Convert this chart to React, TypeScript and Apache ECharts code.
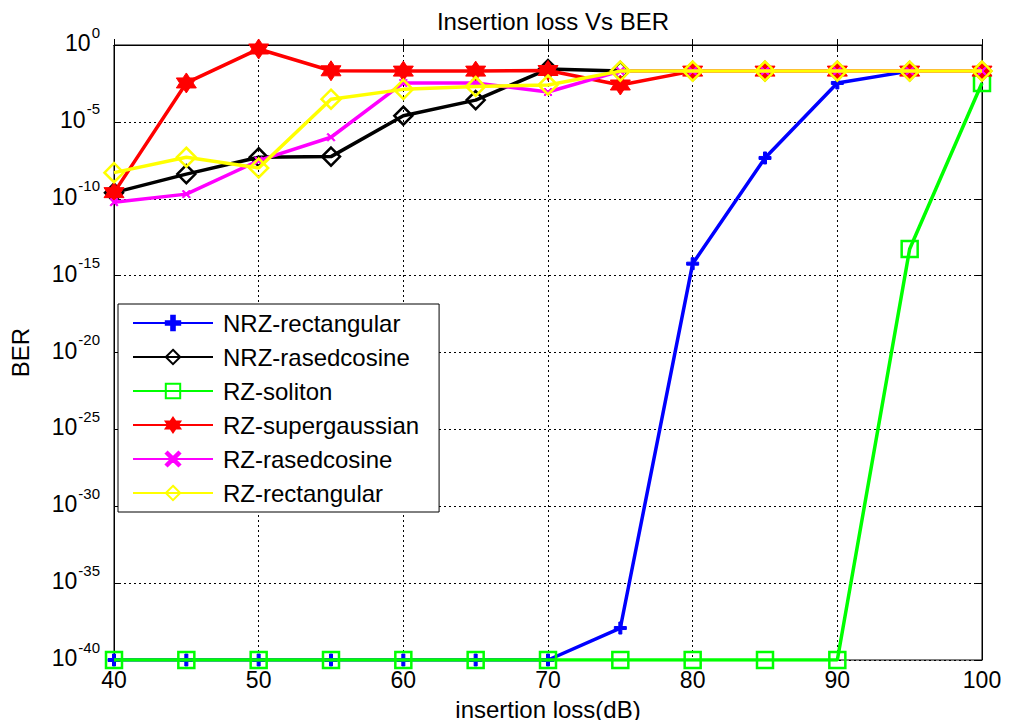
import React, { useEffect, useRef } from "react";
import * as echarts from "echarts";

const xValues = [40, 45, 50, 55, 60, 65, 70, 75, 80, 85, 90, 95, 100];
const seriesNames = [
  "NRZ-rectangular",
  "NRZ-rasedcosine",
  "RZ-soliton",
  "RZ-supergaussian",
  "RZ-rasedcosine",
  "RZ-rectangular",
];
// BER values
const nrzRectangular = [1e-40, 1e-40, 1e-40, 1e-40, 1e-40, 1e-40, 1e-40, 1.2e-38, 6e-15, 4.5e-8, 3.4e-3, 2e-2, 2e-2];
const nrzRasedcosine = [2.5e-10, 4e-9, 5e-8, 5.5e-8, 2.5e-5, 2.6e-4, 2.7e-2, 2e-2, 2e-2, 2e-2, 2e-2, 2e-2, 2e-2];
const rzSoliton = [1e-40, 1e-40, 1e-40, 1e-40, 1e-40, 1e-40, 1e-40, 1e-40, 1e-40, 1e-40, 1e-40, 5.4e-14, 3.4e-3];
const rzSupergaussian = [2.5e-10, 3.4e-3, 5.5e-1, 2.1e-2, 2e-2, 2e-2, 2.2e-2, 2.5e-3, 2e-2, 2e-2, 2e-2, 2e-2, 2e-2];
const rzRasedcosine = [6e-11, 2e-10, 3e-8, 1e-6, 3.4e-3, 3.4e-3, 8.7e-4, 2e-2, 2e-2, 2e-2, 2e-2, 2e-2, 2e-2];
const rzRectangular = [5e-9, 5e-8, 1e-8, 3e-4, 1.3e-3, 2e-3, 2.5e-3, 2e-2, 2e-2, 2e-2, 2e-2, 2e-2, 2e-2];

const colors = ["#0000ff", "#000000", "#00ff00", "#ff0000", "#ff00ff", "#ffff00"];
const allData = [nrzRectangular, nrzRasedcosine, rzSoliton, rzSupergaussian, rzRasedcosine, rzRectangular];

const FONT = "Arial, 'Liberation Sans', sans-serif";

const plusPath =
  "path://M-2,-8 L2,-8 L2,-2 L8,-2 L8,2 L2,2 L2,8 L-2,8 L-2,2 L-8,2 L-8,-2 L-2,-2 Z";
const hexPath =
  "path://M0,-10 L2.9,-5 L8.66,-5 L5.8,0 L8.66,5 L2.9,5 L0,10 L-2.9,5 L-8.66,5 L-5.8,0 L-8.66,-5 L-2.9,-5 Z";
const xPath = "path://M-6,-4.5 L-4.5,-6 L0,-1.5 L4.5,-6 L6,-4.5 L1.5,0 L6,4.5 L4.5,6 L0,1.5 L-4.5,6 L-6,4.5 L-1.5,0 Z";

const symbols = [plusPath, "diamond", "rect", hexPath, xPath, "diamond"];
const symbolSizes = [12, 18, 16, 20, 8, 19];
const filled = [true, false, false, true, true, false];

export default function App() {
  const ref = useRef<HTMLDivElement>(null);
  useEffect(() => {
    if (!ref.current) return;
    const chart = echarts.init(ref.current, undefined, { renderer: "svg" });
    const series = seriesNames.map((name, i) => ({
      name,
      type: "line",
      data: xValues.map((x, j) => [x, Math.log10(allData[i][j])]),
      symbol: symbols[i],
      symbolSize: symbolSizes[i],
      showSymbol: true,
      lineStyle: { color: colors[i], width: 3.5 },
      itemStyle: filled[i]
        ? { color: colors[i], borderColor: colors[i], borderWidth: 1 }
        : { color: "none", borderColor: colors[i], borderWidth: 2.5 },
      z: 2 + i,
    }));
    const superLabel = (v: number) => {
      const e = Math.round(v);
      return "{b|10}{s|" + e + "}";
    };
    chart.setOption({
      animation: false,
      backgroundColor: "#fff",
      title: {
        text: "Insertion loss Vs BER",
        left: 548,
        textAlign: "center",
        top: 4,
        textStyle: { fontFamily: FONT, fontSize: 24, fontWeight: "normal", color: "#000" },
      },
      grid: { left: 114, right: 27, top: 45, bottom: 68, show: true, borderColor: "#000", borderWidth: 1 },
      legend: {
        orient: "vertical",
        left: 118,
        top: 304,
        data: seriesNames,
        backgroundColor: "#fff",
        borderColor: "#000",
        borderWidth: 1,
        borderRadius: 0,
        padding: [7, 20, 7, 14],
        itemWidth: 80,
        itemHeight: 18,
        itemGap: 10,
        textStyle: { fontFamily: FONT, fontSize: 24, lineHeight: 24, color: "#000", padding: [0, 0, 0, 5] },
      },
      xAxis: [
        {
          type: "value",
          min: 40,
          max: 100,
          interval: 10,
          name: "insertion loss(dB)",
          nameLocation: "middle",
          nameGap: 37,
          nameTextStyle: { fontFamily: FONT, fontSize: 24, color: "#000" },
          axisLine: { lineStyle: { color: "#000" } },
          axisTick: { inside: true, length: 6, lineStyle: { color: "#000" } },
          axisLabel: { fontFamily: FONT, fontSize: 23, color: "#000", margin: 8 },
          splitLine: { show: true, lineStyle: { color: "#000", type: [2, 3], width: 1 } },
        },
        {
          type: "value",
          position: "top",
          min: 40,
          max: 100,
          interval: 10,
          axisLine: { lineStyle: { color: "#000" } },
          axisTick: { inside: true, length: 6, lineStyle: { color: "#000" } },
          axisLabel: { show: false },
          splitLine: { show: false },
        },
      ],
      yAxis: [
        {
          type: "value",
          min: -40,
          max: 0,
          interval: 5,
          name: "BER",
          nameLocation: "middle",
          nameGap: 82,
          nameTextStyle: { fontFamily: FONT, fontSize: 24, color: "#000" },
          axisLine: { lineStyle: { color: "#000" } },
          axisTick: { inside: true, length: 6, lineStyle: { color: "#000" } },
          axisLabel: {
            formatter: superLabel,
            margin: 14,
            rich: {
              b: { fontFamily: FONT, fontSize: 23, color: "#000", padding: [8, 1, 12, 0], verticalAlign: "middle" },
              s: { fontFamily: FONT, fontSize: 15, color: "#000", padding: [0, 0, 26, 0], verticalAlign: "middle" },
            },
          },
          splitLine: { show: true, lineStyle: { color: "#000", type: [2, 3], width: 1 } },
        },
        {
          type: "value",
          position: "right",
          min: -40,
          max: 0,
          interval: 5,
          axisLine: { show: true, lineStyle: { color: "#000" } },
          axisTick: { show: true, inside: true, length: 6, lineStyle: { color: "#000" } },
          axisLabel: { show: false },
          splitLine: { show: false },
        },
      ],
      series,
    });
    return () => chart.dispose();
  }, []);
  return <div ref={ref} style={{ width: 1009, height: 728, margin: -8 }} />;
}
